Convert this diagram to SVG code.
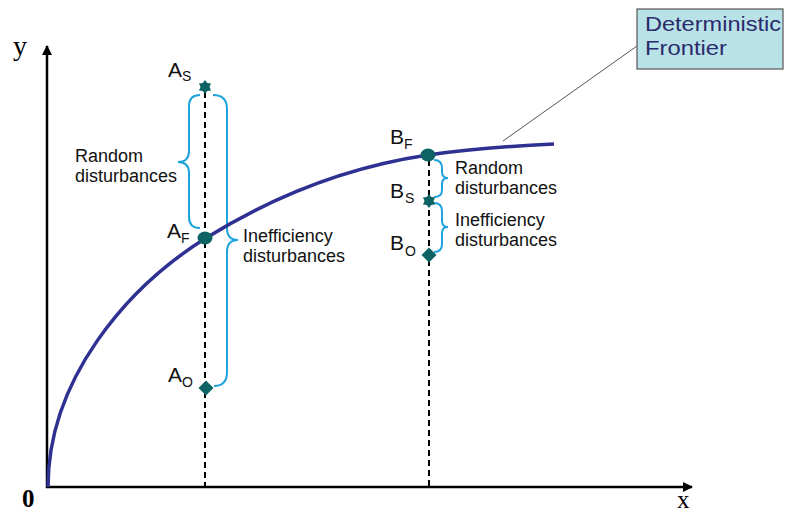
<svg xmlns="http://www.w3.org/2000/svg" width="785" height="515" viewBox="0 0 785 515">
<style>
.lbl{font-family:"Liberation Sans",Arial,sans-serif;fill:#2b2b6b}
.txt{font-family:"Liberation Sans",Arial,sans-serif;font-size:18px;fill:#111}
.pt{font-family:"Liberation Sans",Arial,sans-serif;font-size:21px;fill:#111}
.sub{font-size:14px}
.ax{font-family:"Liberation Serif","Times New Roman",serif;fill:#000}
.dash{stroke:#000;stroke-width:2;stroke-dasharray:6,4;fill:none}
.brace{stroke:#1ea3dc;stroke-width:2;fill:none}
.mk{fill:#0d6363}
</style>
<defs>
<marker id="arr" viewBox="0 0 10 10" refX="9" refY="5" markerWidth="10" markerHeight="10" markerUnits="userSpaceOnUse" orient="auto">
<path d="M0,0 L10,5 L0,10 Z" fill="#000"/>
</marker>
<path id="star" d="M0,-7 L2.25,-3.9 L6.06,-3.5 L4.5,0 L6.06,3.5 L2.25,3.9 L0,7 L-2.25,3.9 L-6.06,3.5 L-4.5,0 L-6.06,-3.5 L-2.25,-3.9 Z"/>
<path id="diam" d="M0,-7.5 L7.5,0 L0,7.5 L-7.5,0 Z"/>
</defs>
<rect width="785" height="515" fill="#fff"/>
<g id="axes">
<line x1="47" y1="488" x2="47" y2="46" stroke="#000" stroke-width="2.5" marker-end="url(#arr)"/>
<line x1="46" y1="487" x2="692" y2="487" stroke="#000" stroke-width="2.5" marker-end="url(#arr)"/>
<text class="ax" x="13" y="55" font-size="28">y</text>
<text class="ax" x="677" y="508" font-size="25">x</text>
<text class="ax" x="22" y="507" font-size="25" font-weight="bold">0</text>
</g>
<g id="connectors">
<line class="dash" x1="205" y1="92" x2="205" y2="487"/>
<line class="dash" x1="429" y1="160" x2="429" y2="487"/>
<line x1="503" y1="141" x2="637" y2="46" stroke="#555" stroke-width="1"/>
<path id="brace-a-random" class="brace" d="M200,95 Q189,95 189,106 L189,151 Q189,162 178,162 Q189,162 189,173 L189,217 Q189,228 200,228"/>
<path id="brace-a-ineff" class="brace" d="M213,95 Q227,95 227,109 L227,228 Q227,240 238,240 Q227,240 227,252 L227,372 Q227,386 214,386"/>
<path id="brace-b-random" class="brace" d="M434,160 Q442,160 442,168 L442,172 Q442,178 448,178 Q442,178 442,184 L442,190 Q442,197 434,197"/>
<path id="brace-b-ineff" class="brace" d="M434,203 Q442,203 442,211 L442,221 Q442,227 448,227 Q442,227 442,233 L442,244 Q442,252 434,252"/>
</g>
<g id="frontier-curve">
<path d="M48,487 C48,380 126,288 206,238 C280,192 354,166 428,155 C470,149 512,146 554,144" fill="none" stroke="#2e3192" stroke-width="3.5"/>
</g>
<g id="node-AS">
<use href="#star" class="mk" x="205" y="87"/>
<text class="pt" x="168" y="77">A<tspan class="sub" dy="4">S</tspan></text>
</g>
<g id="node-AF">
<ellipse class="mk" cx="205" cy="238" rx="7.5" ry="6.5"/>
<text class="pt" x="167" y="238">A<tspan class="sub" dy="5">F</tspan></text>
</g>
<g id="node-AO">
<use href="#diam" class="mk" x="206" y="388"/>
<text class="pt" x="168" y="382">A<tspan class="sub" dy="5">O</tspan></text>
</g>
<g id="node-BF">
<ellipse class="mk" cx="428" cy="155" rx="7.5" ry="6.5"/>
<text class="pt" x="390" y="144">B<tspan class="sub" dy="5">F</tspan></text>
</g>
<g id="node-BS">
<use href="#star" class="mk" x="429" y="201"/>
<text class="pt" x="390" y="198">B<tspan class="sub" dy="5" dx="1">S</tspan></text>
</g>
<g id="node-BO">
<use href="#diam" class="mk" x="429" y="255"/>
<text class="pt" x="390" y="250">B<tspan class="sub" dy="6" dx="1">O</tspan></text>
</g>
<g id="labels">
<text class="txt" x="75" y="162">Random</text>
<text class="txt" x="75" y="182">disturbances</text>
<text class="txt" x="243" y="242">Inefficiency</text>
<text class="txt" x="243" y="262">disturbances</text>
<text class="txt" x="455" y="174">Random</text>
<text class="txt" x="455" y="194">disturbances</text>
<text class="txt" x="455" y="226">Inefficiency</text>
<text class="txt" x="455" y="246">disturbances</text>
</g>
<g id="node-frontier-box">
<rect x="637" y="9" width="146" height="60" fill="#b9e2e8" stroke="#555" stroke-width="1.2"/>
<text class="lbl" x="645" y="31" font-size="21" textLength="136" lengthAdjust="spacingAndGlyphs">Deterministic</text>
<text class="lbl" x="645" y="55" font-size="21" textLength="82" lengthAdjust="spacingAndGlyphs">Frontier</text>
</g>
</svg>
